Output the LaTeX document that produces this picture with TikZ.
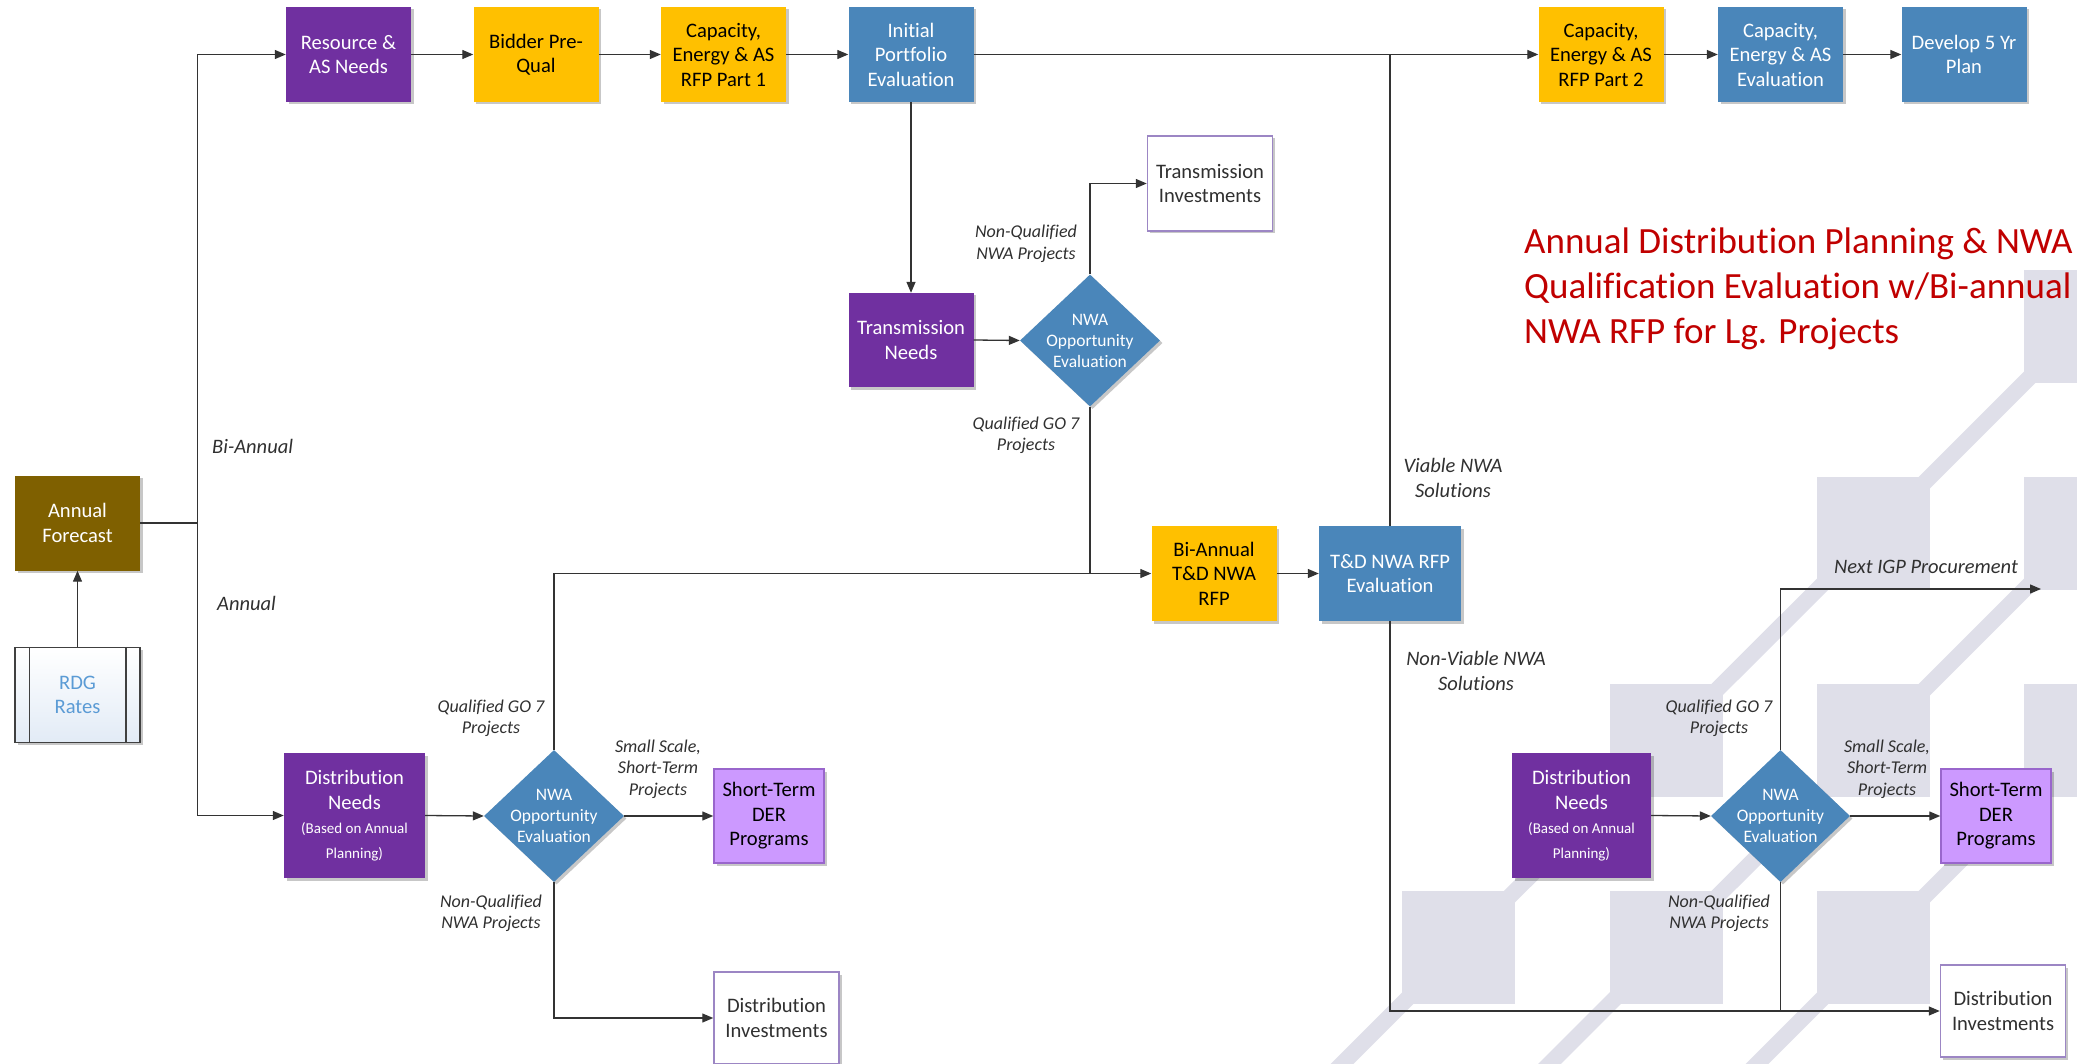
\documentclass[tikz,border=0pt]{standalone}
\usepackage{fontspec}
\setmainfont{Carlito}[Ligatures=NoCommon]
\usetikzlibrary{arrows.meta,shapes.geometric,shadows}
\definecolor{cpurple}{HTML}{7030A0}
\definecolor{cgold}{HTML}{FFC000}
\definecolor{cblue}{HTML}{4A86BA}
\definecolor{cbrown}{HTML}{7F6000}
\definecolor{clilac}{HTML}{CC99FF}
\definecolor{clilacb}{HTML}{9966CC}
\definecolor{cwhiteb}{HTML}{9C86C4}
\definecolor{cbg}{HTML}{DFDFE9}
\definecolor{cred}{HTML}{C00000}
\definecolor{crdg}{HTML}{5B9BD5}
\definecolor{crdgfill}{HTML}{E2EBF6}
\definecolor{cline}{HTML}{333333}
\definecolor{ctext}{HTML}{303030}
\newcommand{\myfmain}{\fontsize{20.6}{24.5}\selectfont}
\newcommand{\mysfont}{\fontsize{18}{21.5}\selectfont\itshape}
\newcommand{\mydfont}{\fontsize{17.5}{21}\selectfont}
\newcommand{\myifont}{\fontsize{20.5}{25}\selectfont\itshape}
\newcommand{\mybased}{\fontsize{15}{24}\selectfont}
\begin{document}
\begin{tikzpicture}[x=1pt,y=-1pt,
  shd/.style={drop shadow={shadow xshift=2.5pt,shadow yshift=-2.5pt,opacity=0.22,fill=black}},
  box/.style={rectangle,minimum width=125pt,minimum height=95pt,inner sep=2pt,align=center,font=\myfmain,shd},
  pbox/.style={box,fill=cpurple,text=white},
  gbox/.style={box,fill=cgold,text=black},
  bbox/.style={box,fill=cblue,text=white},
  wbox/.style={box,fill=white,draw=cwhiteb,line width=1.5pt,text=ctext},
  lbox/.style={box,fill=clilac,draw=clilacb,line width=1.5pt,text=black,minimum width=110pt,minimum height=94pt},
  dia/.style={diamond,fill=cblue,minimum width=140pt,minimum height=132pt,inner sep=0pt,shd},
  diatxt/.style={align=center,text=white,font=\mydfont,inner sep=0pt},
  lab/.style={align=center,text=ctext,font=\mysfont,inner sep=0pt},
  blab/.style={align=center,text=ctext,font=\myifont,inner sep=0pt},
  ln/.style={draw=cline,line width=1.3pt},
  arr/.style={ln,-{Triangle[length=11pt,width=9pt]}},
  bgsq/.style={fill=cbg},
  bgbar/.style={draw=cbg,line width=16pt}
]
\useasboundingbox (0,0) rectangle (2077,1064);
% background pattern
\draw[bgbar] (2080.5,326.5) -- (1873.5,533.5);
\draw[bgbar] (2080.5,533.5) -- (1873.5,740.5);
\draw[bgbar] (1873.5,533.5) -- (1666,740.5);
\draw[bgbar] (2080.5,740.5) -- (1873.5,947.5);
\draw[bgbar] (1873.5,740.5) -- (1666,947.5);
\draw[bgbar] (1666,740.5) -- (1458.5,947.5);
\draw[bgbar] (1458.5,947.5) -- (1308.5,1097.5);
\draw[bgbar] (1666,947.5) -- (1516,1097.5);
\draw[bgbar] (1873.5,947.5) -- (1723.5,1097.5);
\foreach \sx/\sy in {2024/270, 1817/477, 2024/477, 1609.5/684, 1817/684, 2024/684, 1402/891, 1609.5/891, 1817/891}
  \fill[bgsq] (\sx,\sy) rectangle ++(113,113);

% title
\node[align=left,anchor=west,text=cred,font=\fontsize{37}{45}\selectfont,inner sep=0pt] (TT) at (1524,289)
  {Annual Distribution Planning \& NWA\\Qualification Evaluation w/Bi-annual\\NWA RFP for Lg. Projects};

% nodes
\node[box,fill=cbrown,text=white] (AF) at (77.5,523) {Annual\\Forecast};
\node[box,top color=white,bottom color=crdgfill,draw=black!75,line width=1.5pt,text=crdg] (RDG) at (77.5,695) {RDG\\Rates};
\draw[draw=black!75,line width=1.5pt] ([xshift=15pt]RDG.north west) -- ([xshift=15pt]RDG.south west);
\draw[draw=black!75,line width=1.5pt] ([xshift=-15pt]RDG.north east) -- ([xshift=-15pt]RDG.south east);

\node[pbox] (RAS) at (348.5,54.5) {Resource \&\\AS Needs};
\node[gbox] (BPQ) at (536,54.5) {Bidder Pre-\\Qual};
\node[gbox] (CAP1) at (723.5,54.5) {Capacity,\\Energy \& AS\\RFP Part 1};
\node[bbox] (IPE) at (911,54.5) {Initial\\Portfolio\\Evaluation};
\node[gbox] (CAP2) at (1601,54.5) {Capacity,\\Energy \& AS\\RFP Part 2};
\node[bbox] (CAPE) at (1780.5,54.5) {Capacity,\\Energy \& AS\\Evaluation};
\node[bbox] (D5) at (1964,54.5) {Develop 5 Yr\\Plan};

\node[pbox,minimum height=94pt] (TN) at (911,340) {Transmission\\Needs};
\node[dia] (DU) at (1090,340.5) {};
\node[diatxt] (DUt) at (DU) {NWA\\Opportunity\\Evaluation};
\node[wbox] (TI) at (1210,183.5) {Transmission\\Investments};

\node[gbox] (BAR) at (1214,573.5) {Bi-Annual\\T\&D NWA\\RFP};
\node[bbox,minimum width=142pt] (TDE) at (1390,573.5) {T\&D NWA RFP\\Evaluation};

\node[pbox,minimum width=141pt,minimum height=125pt] (DN1) at (354.5,815.5)
  {Distribution\\Needs\\{\mybased (Based on Annual}\\{\mybased Planning)}};
\node[dia] (DL) at (554,816) {};
\node[diatxt] (DLt) at (DL) {NWA\\Opportunity\\Evaluation};
\node[lbox] (DER1) at (769,816) {Short-Term\\DER\\Programs};
\node[wbox,minimum height=92pt] (DI1) at (776.5,1018) {Distribution\\Investments};

\node[pbox,minimum width=139pt,minimum height=125pt] (DN2) at (1581.5,815.5)
  {Distribution\\Needs\\{\mybased (Based on Annual}\\{\mybased Planning)}};
\node[dia,minimum width=139pt] (DR) at (1780.5,816) {};
\node[diatxt] (DRt) at (DR) {NWA\\Opportunity\\Evaluation};
\node[lbox] (DER2) at (1996,816) {Short-Term\\DER\\Programs};
\node[wbox,minimum height=92pt] (DI2) at (2003,1011) {Distribution\\Investments};

% labels
\node[blab,anchor=west] (BiA) at (212,446) {Bi-Annual};
\node[blab,anchor=west] (Ann) at (217,603) {Annual};
\node[lab] (L1) at (1026,244) {Non-Qualified\\NWA Projects};
\node[lab] (L2) at (1026,435.5) {Qualified GO 7\\Projects};
\node[lab] (L3) at (491,718.5) {Qualified GO 7\\Projects};
\node[lab] (L4) at (658,769) {Small Scale,\\Short-Term\\Projects};
\node[lab] (L5) at (491,913.5) {Non-Qualified\\NWA Projects};
\node[blab] (L6) at (1453,478) {Viable NWA\\Solutions};
\node[blab] (L7) at (1476,671) {Non-Viable NWA\\Solutions};
\node[blab] (L8) at (1926,566.6) {Next IGP Procurement};
\node[lab] (L9) at (1719,718.5) {Qualified GO 7\\Projects};
\node[lab] (L10) at (1887,769) {Small Scale,\\Short-Term\\Projects};
\node[lab] (L11) at (1719,913.5) {Non-Qualified\\NWA Projects};

% connectors
\coordinate (J) at (197.5,523);
\coordinate (NIGP) at (2041,589);
\draw[ln] (AF.east) -- (J);
\draw[arr] (J) |- (RAS.west);
\draw[arr] (J) |- (DN1.west);
\draw[arr] (RDG.north) -- (AF.south);
\draw[arr] (RAS) -- (BPQ);
\draw[arr] (BPQ) -- (CAP1);
\draw[arr] (CAP1) -- (IPE);
\draw[arr] (IPE.east) -- (CAP2.west);
\draw[arr] (CAP2) -- (CAPE);
\draw[arr] (CAPE) -- (D5);
\draw[arr] (IPE.south) -- (TN.north);
\draw[arr] (TN.east) -- (DU.west);
\draw[arr] (DU.north) |- (TI.west);
\draw[ln] (DU.south) -- (DU.south |- BAR.west);
\draw[arr] (DL.north) |- (BAR.west);
\draw[arr] (DN1.east) -- (DL.west);
\draw[arr] (DL.east) -- (DER1.west);
\draw[arr] (DL.south) |- (DI1.west);
\draw[arr] (BAR.east) -- (TDE.west);
\draw[ln] (TDE.north) -- (TDE.north |- IPE.east);
\draw[arr] (TDE.south) |- (DI2.west);
\draw[arr] (DN2.east) -- (DR.west);
\draw[arr] (DR.east) -- (DER2.west);
\draw[arr] (DR.north) |- (NIGP);
\draw[ln] (DR.south) -- (DR.south |- DI2.west);
\end{tikzpicture}
\end{document}
